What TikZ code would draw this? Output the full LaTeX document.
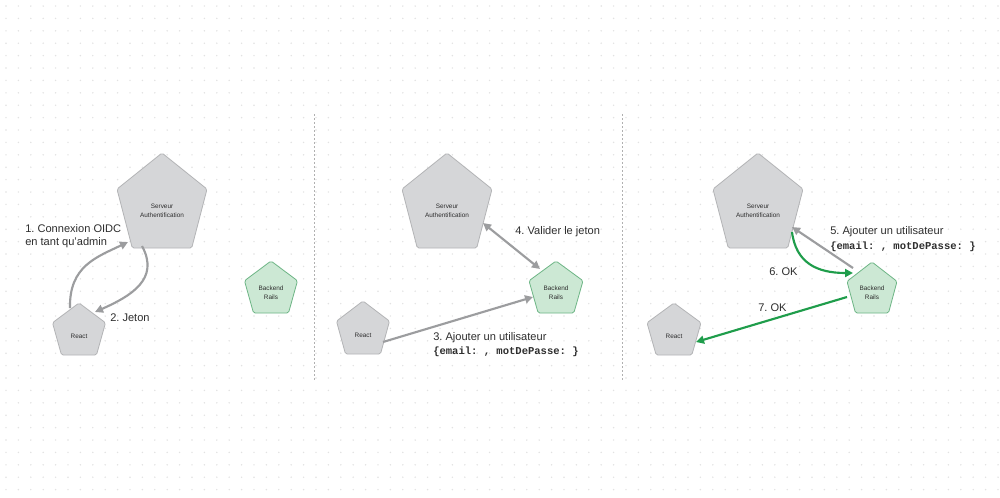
\documentclass[tikz,border=0pt]{standalone}
\usepackage{fontspec}
\setmainfont{Liberation Sans}
\setmonofont{Liberation Mono}
\usetikzlibrary{arrows.meta,calc}
\definecolor{fillGray}{HTML}{D5D6D8}
\definecolor{penGray}{HTML}{B3B4B6}
\definecolor{fillGreen}{HTML}{CCE8D4}
\definecolor{penGreen}{HTML}{6DB585}
\definecolor{arrGray}{HTML}{9C9D9F}
\definecolor{arrGreen}{HTML}{1F9D4B}
\definecolor{txt}{HTML}{2E2E2E}
\definecolor{dotc}{HTML}{E2E2E2}
\definecolor{divc}{HTML}{B0B0B0}
\newcommand\pentshape[5]{%
  \draw[#1] (#2,#3) -- ({#2+0.5*#4},{#3+0.38*#5}) -- ({#2+0.33*#4},{#3+#5})
    -- ({#2-0.33*#4},{#3+#5}) -- ({#2-0.5*#4},{#3+0.38*#5}) -- cycle;}
\frenchspacing
\begin{document}
\frenchspacing
\begin{tikzpicture}[x=0.75pt,y=-0.75pt,
  gpent/.style={draw=penGray, fill=fillGray, line width=0.6pt, rounded corners=1.2pt, line join=round},
  gnpent/.style={draw=penGreen, fill=fillGreen, line width=0.6pt, rounded corners=1.2pt, line join=round},
  ntext/.style={font=\fontsize{4.8}{6.7}\selectfont, text=txt, align=center, inner sep=0pt},
  lbl/.style={font=\fontsize{8.3}{9.75}\selectfont, text=txt, align=left, anchor=west, inner sep=0pt},
  lbltwo/.style={font=\fontsize{8.3}{10.8}\selectfont, text=txt, align=left, anchor=west, inner sep=0pt},
  garr/.style={draw=arrGray, line width=1.6pt, -{Triangle[length=6pt,width=6pt]}},
  garrboth/.style={draw=arrGray, line width=1.6pt, {Triangle[length=6pt,width=6pt]}-{Triangle[length=6pt,width=6pt]}},
  greenarr/.style={draw=arrGreen, line width=1.6pt, -{Triangle[length=6pt,width=6pt]}},
  divider/.style={draw=divc, line width=0.6pt, dash pattern=on 1.5pt off 1.5pt}]
\useasboundingbox (0,0) rectangle (1000,497);
\fill[white] (0,0) rectangle (1000,497);
\foreach \i in {0,...,80}{\foreach \j in {0,...,39}{\fill[dotc] ({6+12.4*\i},{6+12.4*\j}) circle (0.8);}}
% dividers
\draw[divider] (314,114) -- (314,382);
\draw[divider] (622,114) -- (622,382);
% ---------- panel 1
\pentshape{gpent}{162}{153}{90}{95}
\pentshape{gpent}{79}{303}{53}{52}
\pentshape{gnpent}{271}{261}{53}{52}
\node[ntext] (srvA) at (162,211) {Serveur\\Authentification};
\node[ntext] (reactA) at (79,336) {React};
\node[ntext] (railsA) at (271,293) {Backend\\Rails};
\draw[garr] ($(reactA)+(-9,-28)$) .. controls ($(reactA)+(-10,-70)$) and ($(srvA)+(-65,46)$) .. ($(srvA)+(-34,31)$);
\draw[garr] ($(srvA)+(-20,35)$) .. controls ($(srvA)+(-2,68)$) and ($(reactA)+(52,-40)$) .. ($(reactA)+(16,-24)$);
\node[lbl] (l1) at (25,236.5) {1. Connexion OIDC\\en tant qu’admin};
\node[lbl] (l2) at (110,318) {2. Jeton};
% ---------- panel 2
\pentshape{gpent}{447}{153}{90}{95}
\pentshape{gpent}{363}{301}{53}{53}
\pentshape{gnpent}{556}{261}{54}{52}
\node[ntext] (srvB) at (447,211) {Serveur\\Authentification};
\node[ntext] (reactB) at (363,335) {React};
\node[ntext] (railsB) at (556,293) {Backend\\Rails};
\draw[garrboth] ($(srvB)+(36,12)$) -- ($(railsB)+(-16,-24)$);
\draw[garr] ($(reactB)+(20,7)$) -- ($(railsB)+(-23,4)$);
\node[lbl] (l4) at (515,232) {4. Valider le jeton};
\node[lbltwo] (l3) at (433,344.5) {3. Ajouter un utilisateur\\{\ttfamily\bfseries\fontsize{7.9}{10.8}\selectfont \{email: , motDePasse: \}}};
% ---------- panel 3
\pentshape{gpent}{758}{153}{90}{95}
\pentshape{gpent}{674}{303}{54}{52}
\pentshape{gnpent}{872}{262}{50}{51}
\node[ntext] (srvC) at (758,211) {Serveur\\Authentification};
\node[ntext] (reactC) at (674,336) {React};
\node[ntext] (railsC) at (872,293) {Backend\\Rails};
\draw[garr] ($(railsC)+(-19,-25)$) -- ($(srvC)+(34,16)$);
\draw[greenarr] ($(srvC)+(34,21)$) .. controls ($(srvC)+(38,52)$) and ($(railsC)+(-55,-20)$) .. ($(railsC)+(-19,-20)$);
\draw[greenarr] ($(railsC)+(-25,4)$) -- ($(reactC)+(22,6)$);
\node[lbltwo] (l5) at (830,239) {5. Ajouter un utilisateur\\{\ttfamily\bfseries\fontsize{7.9}{10.8}\selectfont \{email: , motDePasse: \}}};
\node[lbl] (l6) at (769,272) {6. OK};
\node[lbl] (l7) at (758,308) {7. OK};
\end{tikzpicture}
\end{document}
